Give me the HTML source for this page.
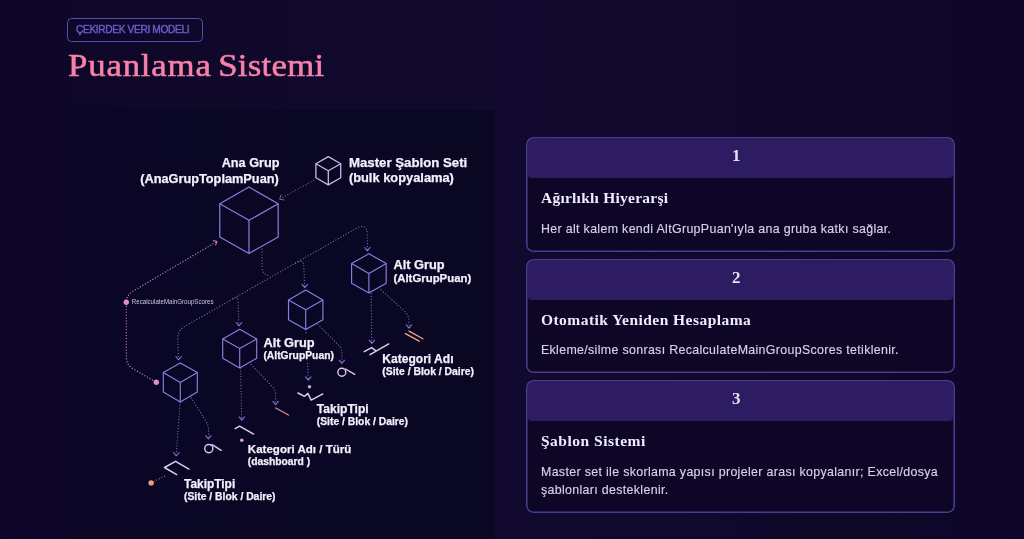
<!DOCTYPE html>
<html lang="tr">
<head>
<meta charset="utf-8">
<title>Puanlama Sistemi</title>
<style>
*{box-sizing:border-box;margin:0;padding:0}
html,body{width:1024px;height:539px;overflow:hidden}
body{background:#0e0729 linear-gradient(90deg,#0d0628 0%,#0f0829 20%,#120a2e 50%,#100829 80%,#0d0628 100%);font-family:"Liberation Sans",sans-serif;color:#fff;position:relative}
#wrap{position:absolute;left:0;top:0;width:1024px;height:539px;will-change:transform;opacity:0.999}
.tag{position:absolute;left:67px;top:17.5px;width:136px;height:24.5px;border:1px solid #5c4cb3;border-radius:4.5px;
 color:#6f5dd0;font-size:10.2px;line-height:22.5px;padding-left:8px;white-space:nowrap;letter-spacing:-0.37px;-webkit-text-stroke:0.4px #6f5dd0}
h1{position:absolute;left:68px;top:45.2px;word-spacing:-2.4px;font-family:"Liberation Serif",serif;font-weight:400;font-size:32.5px;line-height:40px;color:#f982ac;white-space:nowrap;letter-spacing:0.36px;-webkit-text-stroke:0.55px #f982ac;transform-origin:0 0;transform:scaleX(1.07)}
h1 .w1{letter-spacing:0.77px}h1 .w2{letter-spacing:0.26px}
.diagram{position:absolute;left:70px;top:110px;width:424px;height:429px;background:linear-gradient(90deg,#0c0727 0%,#0b0726 25%,#0b0825 60%,#0b0824 100%)}
.diagram svg{position:absolute;left:0;top:0}
.card{position:absolute;left:526.1px;width:428.7px;border:0 none;border-radius:7px;background:#0e0728;overflow:hidden;padding:1.6px}
.card:after{content:"";position:absolute;left:0;top:0;right:0;bottom:0;border-radius:7px;box-shadow:inset 0 0 0 1.6px #4b3d90;pointer-events:none}
.card .hd{height:39.4px;background:#2f1d63;border-radius:4px;text-align:center;font-family:"Liberation Serif",serif;font-weight:700;font-size:17px;line-height:33.6px;padding-right:8.5px;color:#e8e1f5}
.card h3{position:absolute;left:14.9px;top:51.8px;font-family:"Liberation Serif",serif;font-weight:700;font-size:15.5px;line-height:18px;color:#f1ecff;white-space:nowrap}
.card p{position:absolute;left:14.9px;top:82.1px;font-size:12.4px;line-height:18px;color:#d9d3e8;white-space:nowrap;letter-spacing:0.335px;-webkit-text-stroke:0.15px #d9d3e8}
#c1 h3{letter-spacing:0.24px}#c2 h3{letter-spacing:0.46px}#c3 h3{letter-spacing:0.5px}
#c1{top:137.45px;height:114.3px}
#c2{top:259.15px;height:114.1px}
#c3{top:380.45px;height:132.1px}
</style>
</head>
<body>
<div id="wrap">
<div class="tag">ÇEKIRDEK VERI MODELI</div>
<h1><span class="w1">Puanlama</span> <span class="w2">Sistemi</span></h1>

<div class="diagram">
<svg id="dg" width="424" height="429" viewBox="70 110 424 429" font-family="Liberation Sans, sans-serif">
<path d="M313.5,180.5 L281,198.5" fill="none" stroke="#69628f" stroke-width="1.25" stroke-dasharray="0.01 2.9" stroke-linecap="round" stroke-opacity="1"/>
<path d="M281.1,195.0 L279.6,199.2 L284.0,200.0" fill="none" stroke="#7a7198" stroke-width="1.0" stroke-linecap="round" stroke-linejoin="round"/>
<path d="M262,249 V268 Q262.5,275 270,275.8" fill="none" stroke="#756fad" stroke-width="1.25" stroke-dasharray="0.01 2.9" stroke-linecap="round" stroke-opacity="1"/>
<path d="M367.3,249.5 V234 C367.3,225.5 362,225 356,228.5 L185,326.2 Q177.6,330.5 177.8,338 L178.4,358.5" fill="none" stroke="#756fad" stroke-width="1.25" stroke-dasharray="0.01 2.9" stroke-linecap="round" stroke-opacity="1"/>
<path d="M364.6,247.5 L367.3,250.8 L370.0,247.5" fill="none" stroke="#8275e0" stroke-width="1.05" stroke-linecap="round" stroke-linejoin="round"/>
<path d="M175.9,356.5 L178.6,359.8 L181.3,356.5" fill="none" stroke="#8275e0" stroke-width="1.05" stroke-linecap="round" stroke-linejoin="round"/>
<path d="M295.5,263 Q303.6,258.3 303.8,266 L304.6,286.5" fill="none" stroke="#756fad" stroke-width="1.25" stroke-dasharray="0.01 2.9" stroke-linecap="round" stroke-opacity="1"/>
<path d="M302.1,284.3 L304.8,287.6 L307.5,284.3" fill="none" stroke="#8275e0" stroke-width="1.05" stroke-linecap="round" stroke-linejoin="round"/>
<path d="M233,298.6 Q238,295.8 238.1,301 L238.8,324.6" fill="none" stroke="#756fad" stroke-width="1.25" stroke-dasharray="0.01 2.9" stroke-linecap="round" stroke-opacity="1"/>
<path d="M236.3,322.5 L239.0,325.8 L241.7,322.5" fill="none" stroke="#8275e0" stroke-width="1.05" stroke-linecap="round" stroke-linejoin="round"/>
<path d="M371.2,293.5 L371.7,342" fill="none" stroke="#756fad" stroke-width="1.25" stroke-dasharray="0.01 2.9" stroke-linecap="round" stroke-opacity="1"/>
<path d="M369.1,340.1 L371.8,343.4 L374.5,340.1" fill="none" stroke="#8275e0" stroke-width="1.05" stroke-linecap="round" stroke-linejoin="round"/>
<path d="M381.2,290 L404.5,311.2 Q409,315.5 409,321 V327" fill="none" stroke="#756fad" stroke-width="1.25" stroke-dasharray="0.01 2.9" stroke-linecap="round" stroke-opacity="1"/>
<path d="M406.3,324.9 L409.0,328.2 L411.7,324.9" fill="none" stroke="#8275e0" stroke-width="1.05" stroke-linecap="round" stroke-linejoin="round"/>
<path d="M306,329.8 L306.1,335.5 M307.6,363.5 L308.2,379" fill="none" stroke="#756fad" stroke-width="1.25" stroke-dasharray="0.01 2.9" stroke-linecap="round" stroke-opacity="1"/>
<path d="M305.6,376.9 L308.3,380.2 L311.0,376.9" fill="none" stroke="#8275e0" stroke-width="1.05" stroke-linecap="round" stroke-linejoin="round"/>
<path d="M317.9,324.6 L338.5,345 Q341.9,348.5 341.9,353 V362.3" fill="none" stroke="#756fad" stroke-width="1.25" stroke-dasharray="0.01 2.9" stroke-linecap="round" stroke-opacity="1"/>
<path d="M339.2,360.2 L341.9,363.5 L344.6,360.2" fill="none" stroke="#8275e0" stroke-width="1.05" stroke-linecap="round" stroke-linejoin="round"/>
<path d="M240.6,368 L241.7,419" fill="none" stroke="#756fad" stroke-width="1.25" stroke-dasharray="0.01 2.9" stroke-linecap="round" stroke-opacity="1"/>
<path d="M239.1,416.9 L241.8,420.2 L244.5,416.9" fill="none" stroke="#8275e0" stroke-width="1.05" stroke-linecap="round" stroke-linejoin="round"/>
<path d="M251.2,364.5 L272,386.3 Q275.6,390 275.6,395 V403.4" fill="none" stroke="#756fad" stroke-width="1.25" stroke-dasharray="0.01 2.9" stroke-linecap="round" stroke-opacity="1"/>
<path d="M272.9,401.3 L275.6,404.6 L278.3,401.3" fill="none" stroke="#8275e0" stroke-width="1.05" stroke-linecap="round" stroke-linejoin="round"/>
<path d="M180.1,402.3 L176.2,454.5" fill="none" stroke="#756fad" stroke-width="1.25" stroke-dasharray="0.01 2.9" stroke-linecap="round" stroke-opacity="1"/>
<path d="M173.6,452.4 L176.1,455.8 L179.1,452.7" fill="none" stroke="#8275e0" stroke-width="1.05" stroke-linecap="round" stroke-linejoin="round"/>
<path d="M191.2,397.9 L205.5,420.5 Q208.6,425.5 208.6,430 V437.8" fill="none" stroke="#756fad" stroke-width="1.25" stroke-dasharray="0.01 2.9" stroke-linecap="round" stroke-opacity="1"/>
<path d="M205.7,435.7 L208.4,439.0 L211.1,435.7" fill="none" stroke="#8275e0" stroke-width="1.05" stroke-linecap="round" stroke-linejoin="round"/>
<path d="M215.5,242.3 L133,291.2 Q126.3,295.2 126.3,302 V357 Q126.3,364.9 133,368.8 L156.3,382.3" fill="none" stroke="#d98cc9" stroke-width="1.25" stroke-dasharray="0.01 2.9" stroke-linecap="round" stroke-opacity="1"/>
<path d="M215.7,244.9 L217.0,241.4 L213.3,240.7" fill="none" stroke="#e08fc6" stroke-width="1.0" stroke-linecap="round" stroke-linejoin="round"/>
<circle cx="126.3" cy="302.3" r="2.7" fill="#dd8fd0"/>
<circle cx="156.3" cy="382.3" r="2.7" fill="#dd8fd0"/>
<path d="M154,481.3 L165.5,475.8" fill="none" stroke="#9a86a0" stroke-width="1.25" stroke-dasharray="0.01 2.9" stroke-linecap="round" stroke-opacity="1"/>
<circle cx="151.1" cy="482.9" r="2.7" fill="#f49c80"/>
<circle cx="309.5" cy="386.7" r="1.8" fill="#d6a0d3"/>
<circle cx="241.8" cy="440.2" r="1.8" fill="#d6a0d3"/>
<path d="M249.0,187.1 L278.2,203.7 L278.2,236.9 L249.0,253.5 L219.8,236.9 L219.8,203.7 Z M219.8,203.7 L249.0,220.3 L278.2,203.7 M249.0,220.3 L249.0,253.5" fill="none" stroke="#8b7fe0" stroke-width="1.2" stroke-linejoin="round"/>
<path d="M328.3,156.6 L340.7,163.7 L340.7,177.8 L328.3,184.9 L315.9,177.8 L315.9,163.7 Z M315.9,163.7 L328.3,170.8 L340.7,163.7 M328.3,170.8 L328.3,184.9" fill="none" stroke="#c9bae3" stroke-width="1.3" stroke-linejoin="round"/>
<path d="M368.9,253.8 L386.2,263.6 L386.2,283.2 L368.9,293.0 L351.6,283.2 L351.6,263.6 Z M351.6,263.6 L368.9,273.4 L386.2,263.6 M368.9,273.4 L368.9,293.0" fill="none" stroke="#8b7fe0" stroke-width="1.15" stroke-linejoin="round"/>
<path d="M305.7,290.1 L322.9,299.9 L322.9,319.7 L305.7,329.5 L288.5,319.7 L288.5,299.9 Z M288.5,299.9 L305.7,309.8 L322.9,299.9 M305.7,309.8 L305.7,329.5" fill="none" stroke="#8b7fe0" stroke-width="1.15" stroke-linejoin="round"/>
<path d="M239.7,329.3 L256.7,339.0 L256.7,358.2 L239.7,367.9 L222.7,358.2 L222.7,339.0 Z M222.7,339.0 L239.7,348.6 L256.7,339.0 M239.7,348.6 L239.7,367.9" fill="none" stroke="#8b7fe0" stroke-width="1.15" stroke-linejoin="round"/>
<path d="M180.3,362.9 L197.3,372.6 L197.3,392.1 L180.3,401.9 L163.3,392.1 L163.3,372.6 Z M163.3,372.6 L180.3,382.4 L197.3,372.6 M180.3,382.4 L180.3,401.9" fill="none" stroke="#8b7fe0" stroke-width="1.15" stroke-linejoin="round"/>
<path d="M364.2,351.7 L371.7,347.6 L375.6,350.6 M370,354.7 L388.7,343.9" fill="none" stroke="#dfd0f0" stroke-width="1.45" stroke-linecap="round" stroke-linejoin="round"/>
<path d="M405.4,333.6 L419.2,341.1 M409,331.1 L422.9,338.7" fill="none" stroke="#f3a982" stroke-width="1.3" stroke-linecap="round"/>
<path d="M297.9,393 L304.6,396.3 L307.9,393.4 L311.2,400.1 L322.8,393.9" fill="none" stroke="#dfd0f0" stroke-width="1.45" stroke-linecap="round" stroke-linejoin="round"/>
<circle cx="341.8" cy="372.3" r="4" fill="none" stroke="#e2cbea" stroke-width="1.4" stroke-linecap="round" stroke-linejoin="round"/><path d="M345.6,369 L354.7,374.3" fill="none" stroke="#e2cbea" stroke-width="1.4" stroke-linecap="round" stroke-linejoin="round"/>
<circle cx="208.8" cy="448.6" r="4.1" fill="none" stroke="#e2cbea" stroke-width="1.4" stroke-linecap="round" stroke-linejoin="round"/><path d="M212.1,444.6 L221.2,450.3" fill="none" stroke="#e2cbea" stroke-width="1.4" stroke-linecap="round" stroke-linejoin="round"/>
<path d="M275.8,408 L288.5,415" fill="none" stroke="#f07f95" stroke-width="1.4" stroke-linecap="round"/>
<path d="M235.2,428.7 L239.6,426.2 L253.6,434.1" fill="none" stroke="#dfd0f0" stroke-width="1.45" stroke-linecap="round" stroke-linejoin="round"/>
<path d="M189,469.1 L175.6,461.3 L164.5,467.5 L176.7,474.6" fill="none" stroke="#dfd0f0" stroke-width="1.45" stroke-linecap="round" stroke-linejoin="round"/>
<text x="279.5" y="166.7" font-size="12.3" font-weight="700" fill="#f4f1ff" text-anchor="end" textLength="57.8" lengthAdjust="spacingAndGlyphs" stroke="#f4f1ff" stroke-width="0.25">Ana Grup</text>
<text x="278.8" y="182.6" font-size="12.3" font-weight="700" fill="#f4f1ff" text-anchor="end" textLength="138.6" lengthAdjust="spacingAndGlyphs" stroke="#f4f1ff" stroke-width="0.25">(AnaGrupToplamPuan)</text>
<text x="348.9" y="166.7" font-size="12.3" font-weight="700" fill="#f4f1ff" text-anchor="start" textLength="118.4" lengthAdjust="spacingAndGlyphs" stroke="#f4f1ff" stroke-width="0.25">Master Şablon Seti</text>
<text x="348.9" y="182.4" font-size="12.3" font-weight="700" fill="#f4f1ff" text-anchor="start" textLength="105" lengthAdjust="spacingAndGlyphs" stroke="#f4f1ff" stroke-width="0.25">(bulk kopyalama)</text>
<text x="393.4" y="268.9" font-size="12.3" font-weight="700" fill="#f4f1ff" text-anchor="start" textLength="51.2" lengthAdjust="spacingAndGlyphs" stroke="#f4f1ff" stroke-width="0.25">Alt Grup</text>
<text x="393.4" y="282.3" font-size="10.6" font-weight="700" fill="#f4f1ff" text-anchor="start" textLength="77.9" lengthAdjust="spacingAndGlyphs" stroke="#f4f1ff" stroke-width="0.25">(AltGrupPuan)</text>
<text x="263.4" y="346.6" font-size="12.3" font-weight="700" fill="#f4f1ff" text-anchor="start" textLength="51.2" lengthAdjust="spacingAndGlyphs" stroke="#f4f1ff" stroke-width="0.25">Alt Grup</text>
<text x="263.4" y="359.3" font-size="10" font-weight="700" fill="#f4f1ff" text-anchor="start" textLength="70.5" lengthAdjust="spacingAndGlyphs" stroke="#f4f1ff" stroke-width="0.25">(AltGrupPuan)</text>
<text x="382.3" y="362.8" font-size="12" font-weight="700" fill="#f4f1ff" text-anchor="start" textLength="71.2" lengthAdjust="spacingAndGlyphs" stroke="#f4f1ff" stroke-width="0.25">Kategori Adı</text>
<text x="382.3" y="375.1" font-size="10" font-weight="700" fill="#f4f1ff" text-anchor="start" textLength="91.7" lengthAdjust="spacingAndGlyphs" stroke="#f4f1ff" stroke-width="0.25">(Site / Blok / Daire)</text>
<text x="316.8" y="412.8" font-size="12" font-weight="700" fill="#f4f1ff" text-anchor="start" textLength="51.8" lengthAdjust="spacingAndGlyphs" stroke="#f4f1ff" stroke-width="0.25">TakipTipi</text>
<text x="316.8" y="424.6" font-size="10" font-weight="700" fill="#f4f1ff" text-anchor="start" textLength="91.2" lengthAdjust="spacingAndGlyphs" stroke="#f4f1ff" stroke-width="0.25">(Site / Blok / Daire)</text>
<text x="247.8" y="452.6" font-size="11.8" font-weight="700" fill="#f4f1ff" text-anchor="start" textLength="103.5" lengthAdjust="spacingAndGlyphs" stroke="#f4f1ff" stroke-width="0.25">Kategori Adı / Türü</text>
<text x="247.8" y="464.9" font-size="10" font-weight="700" fill="#f4f1ff" text-anchor="start" textLength="62.3" lengthAdjust="spacingAndGlyphs" stroke="#f4f1ff" stroke-width="0.25">(dashboard )</text>
<text x="184" y="487.5" font-size="12" font-weight="700" fill="#f4f1ff" text-anchor="start" textLength="51.2" lengthAdjust="spacingAndGlyphs" stroke="#f4f1ff" stroke-width="0.25">TakipTipi</text>
<text x="184" y="499.9" font-size="10" font-weight="700" fill="#f4f1ff" text-anchor="start" textLength="91.5" lengthAdjust="spacingAndGlyphs" stroke="#f4f1ff" stroke-width="0.25">(Site / Blok / Daire)</text>
<text x="131.8" y="304.4" font-size="6.3" font-weight="400" fill="#cfc8e6" text-anchor="start" textLength="81.7" lengthAdjust="spacingAndGlyphs">RecalculateMainGroupScores</text>
</svg>
</div>

<div class="card" id="c1"><div class="hd">1</div><h3>Ağırlıklı Hiyerarşi</h3><p>Her alt kalem kendi AltGrupPuan'ıyla ana gruba katkı sağlar.</p></div>
<div class="card" id="c2"><div class="hd">2</div><h3>Otomatik Yeniden Hesaplama</h3><p>Ekleme/silme sonrası RecalculateMainGroupScores tetiklenir.</p></div>
<div class="card" id="c3"><div class="hd">3</div><h3>Şablon Sistemi</h3><p>Master set ile skorlama yapısı projeler arası kopyalanır; Excel/dosya<br>şablonları desteklenir.</p></div>
</div>
</body>
</html>
